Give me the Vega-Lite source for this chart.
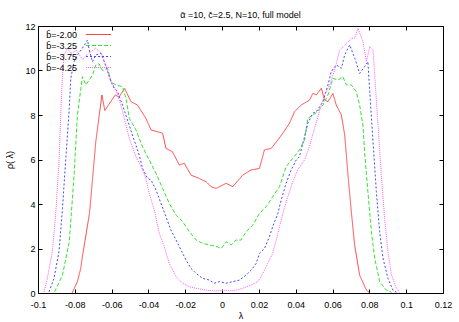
{
  "$schema": "https://vega.github.io/schema/vega-lite/v6.json",
  "width": 405,
  "height": 267,
  "autosize": "none",
  "padding": {"left": 38, "top": 26, "right": 16, "bottom": 29},
  "background": "white",
  "config": {
    "font": "Liberation Sans",
    "view": {"stroke": "black", "strokeWidth": 1},
    "axis": {"grid": false, "domain": false, "tickColor": "black", "tickSize": -4, "labelFontSize": 9, "labelColor": "black", "titleFontSize": 9, "titleFontWeight": "normal", "titleColor": "black", "labelPadding": 7}
  },
  "title": {"text": "ᾱ =10, c̆=2.5, N=10, full model", "fontSize": 9, "fontWeight": "normal", "anchor": "middle", "offset": 2, "color": "black"},
  "data": {"values": [
    {"b":"b̄=-2.00","lambda":-0.0815,"rho":0},
    {"b":"b̄=-2.00","lambda":-0.0786,"rho":0.51},
    {"b":"b̄=-2.00","lambda":-0.0768,"rho":1.1},
    {"b":"b̄=-2.00","lambda":-0.076,"rho":1.57},
    {"b":"b̄=-2.00","lambda":-0.072,"rho":3.6},
    {"b":"b̄=-2.00","lambda":-0.0686,"rho":6.8},
    {"b":"b̄=-2.00","lambda":-0.0653,"rho":8.9},
    {"b":"b̄=-2.00","lambda":-0.0637,"rho":8.2},
    {"b":"b̄=-2.00","lambda":-0.0613,"rho":8.5},
    {"b":"b̄=-2.00","lambda":-0.058,"rho":8.9},
    {"b":"b̄=-2.00","lambda":-0.056,"rho":8.8},
    {"b":"b̄=-2.00","lambda":-0.053,"rho":9.2},
    {"b":"b̄=-2.00","lambda":-0.0495,"rho":8.6},
    {"b":"b̄=-2.00","lambda":-0.046,"rho":8.45},
    {"b":"b̄=-2.00","lambda":-0.0414,"rho":7.85},
    {"b":"b̄=-2.00","lambda":-0.0386,"rho":7.33},
    {"b":"b̄=-2.00","lambda":-0.0323,"rho":7.18},
    {"b":"b̄=-2.00","lambda":-0.0305,"rho":6.5},
    {"b":"b̄=-2.00","lambda":-0.027,"rho":6.35},
    {"b":"b̄=-2.00","lambda":-0.0232,"rho":5.75},
    {"b":"b̄=-2.00","lambda":-0.0205,"rho":5.83},
    {"b":"b̄=-2.00","lambda":-0.0169,"rho":5.3},
    {"b":"b̄=-2.00","lambda":-0.0124,"rho":5.15},
    {"b":"b̄=-2.00","lambda":-0.0087,"rho":5.0},
    {"b":"b̄=-2.00","lambda":-0.006,"rho":4.78},
    {"b":"b̄=-2.00","lambda":-0.0033,"rho":4.7},
    {"b":"b̄=-2.00","lambda":0.0003,"rho":4.85},
    {"b":"b̄=-2.00","lambda":0.0022,"rho":4.93},
    {"b":"b̄=-2.00","lambda":0.0058,"rho":4.78},
    {"b":"b̄=-2.00","lambda":0.0112,"rho":5.3},
    {"b":"b̄=-2.00","lambda":0.0158,"rho":5.53},
    {"b":"b̄=-2.00","lambda":0.0203,"rho":5.6},
    {"b":"b̄=-2.00","lambda":0.023,"rho":6.43},
    {"b":"b̄=-2.00","lambda":0.0267,"rho":6.5},
    {"b":"b̄=-2.00","lambda":0.0303,"rho":6.88},
    {"b":"b̄=-2.00","lambda":0.033,"rho":7.18},
    {"b":"b̄=-2.00","lambda":0.0366,"rho":7.63},
    {"b":"b̄=-2.00","lambda":0.0394,"rho":8.15},
    {"b":"b̄=-2.00","lambda":0.043,"rho":8.45},
    {"b":"b̄=-2.00","lambda":0.0475,"rho":8.67},
    {"b":"b̄=-2.00","lambda":0.0493,"rho":8.97},
    {"b":"b̄=-2.00","lambda":0.0512,"rho":8.9},
    {"b":"b̄=-2.00","lambda":0.0539,"rho":9.2},
    {"b":"b̄=-2.00","lambda":0.0557,"rho":8.67},
    {"b":"b̄=-2.00","lambda":0.0575,"rho":8.6},
    {"b":"b̄=-2.00","lambda":0.0602,"rho":8.97},
    {"b":"b̄=-2.00","lambda":0.062,"rho":8.45},
    {"b":"b̄=-2.00","lambda":0.0648,"rho":8.0},
    {"b":"b̄=-2.00","lambda":0.0666,"rho":7.1},
    {"b":"b̄=-2.00","lambda":0.0684,"rho":5.3},
    {"b":"b̄=-2.00","lambda":0.0702,"rho":3.65},
    {"b":"b̄=-2.00","lambda":0.072,"rho":2.16},
    {"b":"b̄=-2.00","lambda":0.0747,"rho":0.81},
    {"b":"b̄=-2.00","lambda":0.0784,"rho":0.13},
    {"b":"b̄=-2.00","lambda":0.08,"rho":0.02},

    {"b":"b̄=-3.25","lambda":-0.091,"rho":0.05},
    {"b":"b̄=-3.25","lambda":-0.0867,"rho":0.81},
    {"b":"b̄=-3.25","lambda":-0.083,"rho":2.3},
    {"b":"b̄=-3.25","lambda":-0.0804,"rho":5.3},
    {"b":"b̄=-3.25","lambda":-0.0786,"rho":8.0},
    {"b":"b̄=-3.25","lambda":-0.0767,"rho":9.2},
    {"b":"b̄=-3.25","lambda":-0.0759,"rho":9.72},
    {"b":"b̄=-3.25","lambda":-0.074,"rho":9.35},
    {"b":"b̄=-3.25","lambda":-0.0722,"rho":9.57},
    {"b":"b̄=-3.25","lambda":-0.0704,"rho":9.8},
    {"b":"b̄=-3.25","lambda":-0.0686,"rho":10.25},
    {"b":"b̄=-3.25","lambda":-0.0668,"rho":10.3},
    {"b":"b̄=-3.25","lambda":-0.065,"rho":10.0},
    {"b":"b̄=-3.25","lambda":-0.0622,"rho":10.1},
    {"b":"b̄=-3.25","lambda":-0.0604,"rho":9.5},
    {"b":"b̄=-3.25","lambda":-0.0577,"rho":9.35},
    {"b":"b̄=-3.25","lambda":-0.0541,"rho":9.27},
    {"b":"b̄=-3.25","lambda":-0.0522,"rho":8.75},
    {"b":"b̄=-3.25","lambda":-0.0504,"rho":7.85},
    {"b":"b̄=-3.25","lambda":-0.0468,"rho":7.33},
    {"b":"b̄=-3.25","lambda":-0.0432,"rho":6.57},
    {"b":"b̄=-3.25","lambda":-0.0396,"rho":5.98},
    {"b":"b̄=-3.25","lambda":-0.0359,"rho":5.38},
    {"b":"b̄=-3.25","lambda":-0.0323,"rho":4.7},
    {"b":"b̄=-3.25","lambda":-0.0287,"rho":4.03},
    {"b":"b̄=-3.25","lambda":-0.025,"rho":3.5},
    {"b":"b̄=-3.25","lambda":-0.0214,"rho":3.2},
    {"b":"b̄=-3.25","lambda":-0.0178,"rho":2.76},
    {"b":"b̄=-3.25","lambda":-0.0141,"rho":2.38},
    {"b":"b̄=-3.25","lambda":-0.0106,"rho":2.23},
    {"b":"b̄=-3.25","lambda":-0.0069,"rho":2.16},
    {"b":"b̄=-3.25","lambda":-0.0033,"rho":2.1},
    {"b":"b̄=-3.25","lambda":-0.0005,"rho":2.0},
    {"b":"b̄=-3.25","lambda":0.0022,"rho":2.3},
    {"b":"b̄=-3.25","lambda":0.0049,"rho":2.16},
    {"b":"b̄=-3.25","lambda":0.0076,"rho":2.38},
    {"b":"b̄=-3.25","lambda":0.0103,"rho":2.38},
    {"b":"b̄=-3.25","lambda":0.0131,"rho":2.76},
    {"b":"b̄=-3.25","lambda":0.0167,"rho":3.05},
    {"b":"b̄=-3.25","lambda":0.0203,"rho":3.58},
    {"b":"b̄=-3.25","lambda":0.024,"rho":3.88},
    {"b":"b̄=-3.25","lambda":0.0275,"rho":4.33},
    {"b":"b̄=-3.25","lambda":0.0312,"rho":4.78},
    {"b":"b̄=-3.25","lambda":0.0348,"rho":5.68},
    {"b":"b̄=-3.25","lambda":0.0384,"rho":6.05},
    {"b":"b̄=-3.25","lambda":0.042,"rho":6.43},
    {"b":"b̄=-3.25","lambda":0.0448,"rho":6.88},
    {"b":"b̄=-3.25","lambda":0.0466,"rho":7.85},
    {"b":"b̄=-3.25","lambda":0.0493,"rho":8.0},
    {"b":"b̄=-3.25","lambda":0.0512,"rho":8.1},
    {"b":"b̄=-3.25","lambda":0.0548,"rho":8.45},
    {"b":"b̄=-3.25","lambda":0.0575,"rho":8.9},
    {"b":"b̄=-3.25","lambda":0.0602,"rho":9.65},
    {"b":"b̄=-3.25","lambda":0.0629,"rho":9.57},
    {"b":"b̄=-3.25","lambda":0.0656,"rho":9.72},
    {"b":"b̄=-3.25","lambda":0.0675,"rho":9.35},
    {"b":"b̄=-3.25","lambda":0.0702,"rho":9.35},
    {"b":"b̄=-3.25","lambda":0.0729,"rho":9.05},
    {"b":"b̄=-3.25","lambda":0.0747,"rho":8.45},
    {"b":"b̄=-3.25","lambda":0.0765,"rho":7.55},
    {"b":"b̄=-3.25","lambda":0.0774,"rho":6.35},
    {"b":"b̄=-3.25","lambda":0.0792,"rho":4.55},
    {"b":"b̄=-3.25","lambda":0.0811,"rho":2.76},
    {"b":"b̄=-3.25","lambda":0.0829,"rho":1.56},
    {"b":"b̄=-3.25","lambda":0.0856,"rho":0.51},
    {"b":"b̄=-3.25","lambda":0.0892,"rho":0.13},
    {"b":"b̄=-3.25","lambda":0.092,"rho":0.03},

    {"b":"b̄=-3.75","lambda":-0.094,"rho":0.05},
    {"b":"b̄=-3.75","lambda":-0.0913,"rho":0.66},
    {"b":"b̄=-3.75","lambda":-0.0886,"rho":1.86},
    {"b":"b̄=-3.75","lambda":-0.0867,"rho":3.8},
    {"b":"b̄=-3.75","lambda":-0.0849,"rho":6.05},
    {"b":"b̄=-3.75","lambda":-0.083,"rho":8.3},
    {"b":"b̄=-3.75","lambda":-0.0822,"rho":9.65},
    {"b":"b̄=-3.75","lambda":-0.0804,"rho":10.4},
    {"b":"b̄=-3.75","lambda":-0.0786,"rho":10.7},
    {"b":"b̄=-3.75","lambda":-0.0759,"rho":11.0},
    {"b":"b̄=-3.75","lambda":-0.0731,"rho":11.37},
    {"b":"b̄=-3.75","lambda":-0.0722,"rho":10.92},
    {"b":"b̄=-3.75","lambda":-0.0704,"rho":10.4},
    {"b":"b̄=-3.75","lambda":-0.0686,"rho":10.7},
    {"b":"b̄=-3.75","lambda":-0.0658,"rho":10.77},
    {"b":"b̄=-3.75","lambda":-0.064,"rho":10.4},
    {"b":"b̄=-3.75","lambda":-0.0622,"rho":9.95},
    {"b":"b̄=-3.75","lambda":-0.0604,"rho":9.5},
    {"b":"b̄=-3.75","lambda":-0.0586,"rho":9.2},
    {"b":"b̄=-3.75","lambda":-0.0568,"rho":9.05},
    {"b":"b̄=-3.75","lambda":-0.0541,"rho":8.45},
    {"b":"b̄=-3.75","lambda":-0.0514,"rho":7.78},
    {"b":"b̄=-3.75","lambda":-0.0487,"rho":7.1},
    {"b":"b̄=-3.75","lambda":-0.045,"rho":6.2},
    {"b":"b̄=-3.75","lambda":-0.0432,"rho":5.6},
    {"b":"b̄=-3.75","lambda":-0.0405,"rho":5.15},
    {"b":"b̄=-3.75","lambda":-0.0386,"rho":5.08},
    {"b":"b̄=-3.75","lambda":-0.0359,"rho":4.63},
    {"b":"b̄=-3.75","lambda":-0.0332,"rho":4.03},
    {"b":"b̄=-3.75","lambda":-0.0305,"rho":3.43},
    {"b":"b̄=-3.75","lambda":-0.0278,"rho":2.83},
    {"b":"b̄=-3.75","lambda":-0.025,"rho":2.38},
    {"b":"b̄=-3.75","lambda":-0.0223,"rho":1.93},
    {"b":"b̄=-3.75","lambda":-0.0196,"rho":1.48},
    {"b":"b̄=-3.75","lambda":-0.0169,"rho":1.11},
    {"b":"b̄=-3.75","lambda":-0.0141,"rho":0.88},
    {"b":"b̄=-3.75","lambda":-0.0106,"rho":0.66},
    {"b":"b̄=-3.75","lambda":-0.0069,"rho":0.58},
    {"b":"b̄=-3.75","lambda":-0.0042,"rho":0.44},
    {"b":"b̄=-3.75","lambda":-0.0015,"rho":0.51},
    {"b":"b̄=-3.75","lambda":0.0022,"rho":0.44},
    {"b":"b̄=-3.75","lambda":0.0058,"rho":0.51},
    {"b":"b̄=-3.75","lambda":0.0094,"rho":0.58},
    {"b":"b̄=-3.75","lambda":0.0131,"rho":0.81},
    {"b":"b̄=-3.75","lambda":0.0158,"rho":1.03},
    {"b":"b̄=-3.75","lambda":0.0185,"rho":1.33},
    {"b":"b̄=-3.75","lambda":0.0203,"rho":1.78},
    {"b":"b̄=-3.75","lambda":0.023,"rho":2.0},
    {"b":"b̄=-3.75","lambda":0.0257,"rho":2.53},
    {"b":"b̄=-3.75","lambda":0.0275,"rho":2.98},
    {"b":"b̄=-3.75","lambda":0.0303,"rho":3.58},
    {"b":"b̄=-3.75","lambda":0.0321,"rho":4.18},
    {"b":"b̄=-3.75","lambda":0.0348,"rho":4.93},
    {"b":"b̄=-3.75","lambda":0.0375,"rho":5.53},
    {"b":"b̄=-3.75","lambda":0.0403,"rho":5.98},
    {"b":"b̄=-3.75","lambda":0.042,"rho":6.13},
    {"b":"b̄=-3.75","lambda":0.0439,"rho":6.73},
    {"b":"b̄=-3.75","lambda":0.0466,"rho":7.63},
    {"b":"b̄=-3.75","lambda":0.0493,"rho":8.08},
    {"b":"b̄=-3.75","lambda":0.0512,"rho":8.15},
    {"b":"b̄=-3.75","lambda":0.0548,"rho":8.6},
    {"b":"b̄=-3.75","lambda":0.0575,"rho":9.35},
    {"b":"b̄=-3.75","lambda":0.0593,"rho":9.95},
    {"b":"b̄=-3.75","lambda":0.062,"rho":10.25},
    {"b":"b̄=-3.75","lambda":0.0648,"rho":10.1},
    {"b":"b̄=-3.75","lambda":0.0666,"rho":10.7},
    {"b":"b̄=-3.75","lambda":0.0693,"rho":11.15},
    {"b":"b̄=-3.75","lambda":0.0721,"rho":10.55},
    {"b":"b̄=-3.75","lambda":0.0747,"rho":9.87},
    {"b":"b̄=-3.75","lambda":0.0774,"rho":10.17},
    {"b":"b̄=-3.75","lambda":0.0792,"rho":10.4},
    {"b":"b̄=-3.75","lambda":0.0802,"rho":9.05},
    {"b":"b̄=-3.75","lambda":0.082,"rho":6.8},
    {"b":"b̄=-3.75","lambda":0.0838,"rho":4.55},
    {"b":"b̄=-3.75","lambda":0.0856,"rho":2.76},
    {"b":"b̄=-3.75","lambda":0.0874,"rho":1.56},
    {"b":"b̄=-3.75","lambda":0.0901,"rho":0.66},
    {"b":"b̄=-3.75","lambda":0.0928,"rho":0.13},
    {"b":"b̄=-3.75","lambda":0.0947,"rho":0.03},

    {"b":"b̄=-4.25","lambda":-0.0967,"rho":0.05},
    {"b":"b̄=-4.25","lambda":-0.0949,"rho":0.66},
    {"b":"b̄=-4.25","lambda":-0.0922,"rho":1.86},
    {"b":"b̄=-4.25","lambda":-0.0903,"rho":3.65},
    {"b":"b̄=-4.25","lambda":-0.0885,"rho":6.05},
    {"b":"b̄=-4.25","lambda":-0.0876,"rho":8.15},
    {"b":"b̄=-4.25","lambda":-0.0867,"rho":9.8},
    {"b":"b̄=-4.25","lambda":-0.0858,"rho":10.7},
    {"b":"b̄=-4.25","lambda":-0.084,"rho":11.0},
    {"b":"b̄=-4.25","lambda":-0.0822,"rho":10.77},
    {"b":"b̄=-4.25","lambda":-0.079,"rho":10.9},
    {"b":"b̄=-4.25","lambda":-0.0759,"rho":10.5},
    {"b":"b̄=-4.25","lambda":-0.0722,"rho":10.8},
    {"b":"b̄=-4.25","lambda":-0.0686,"rho":11.0},
    {"b":"b̄=-4.25","lambda":-0.0658,"rho":10.8},
    {"b":"b̄=-4.25","lambda":-0.0631,"rho":10.25},
    {"b":"b̄=-4.25","lambda":-0.0604,"rho":9.57},
    {"b":"b̄=-4.25","lambda":-0.0577,"rho":9.12},
    {"b":"b̄=-4.25","lambda":-0.055,"rho":8.45},
    {"b":"b̄=-4.25","lambda":-0.0522,"rho":7.55},
    {"b":"b̄=-4.25","lambda":-0.0504,"rho":6.95},
    {"b":"b̄=-4.25","lambda":-0.0468,"rho":6.13},
    {"b":"b̄=-4.25","lambda":-0.0432,"rho":5.53},
    {"b":"b̄=-4.25","lambda":-0.0414,"rho":5.15},
    {"b":"b̄=-4.25","lambda":-0.0396,"rho":4.48},
    {"b":"b̄=-4.25","lambda":-0.0368,"rho":3.73},
    {"b":"b̄=-4.25","lambda":-0.0341,"rho":2.68},
    {"b":"b̄=-4.25","lambda":-0.0314,"rho":2.08},
    {"b":"b̄=-4.25","lambda":-0.0287,"rho":1.33},
    {"b":"b̄=-4.25","lambda":-0.025,"rho":0.73},
    {"b":"b̄=-4.25","lambda":-0.0214,"rho":0.44},
    {"b":"b̄=-4.25","lambda":-0.0178,"rho":0.28},
    {"b":"b̄=-4.25","lambda":-0.0141,"rho":0.21},
    {"b":"b̄=-4.25","lambda":-0.0087,"rho":0.13},
    {"b":"b̄=-4.25","lambda":-0.0033,"rho":0.09},
    {"b":"b̄=-4.25","lambda":0.0022,"rho":0.12},
    {"b":"b̄=-4.25","lambda":0.0058,"rho":0.09},
    {"b":"b̄=-4.25","lambda":0.0112,"rho":0.21},
    {"b":"b̄=-4.25","lambda":0.0158,"rho":0.36},
    {"b":"b̄=-4.25","lambda":0.0194,"rho":0.51},
    {"b":"b̄=-4.25","lambda":0.0221,"rho":0.88},
    {"b":"b̄=-4.25","lambda":0.0248,"rho":1.33},
    {"b":"b̄=-4.25","lambda":0.0275,"rho":1.78},
    {"b":"b̄=-4.25","lambda":0.0303,"rho":2.68},
    {"b":"b̄=-4.25","lambda":0.033,"rho":3.58},
    {"b":"b̄=-4.25","lambda":0.0357,"rho":4.33},
    {"b":"b̄=-4.25","lambda":0.0384,"rho":5.0},
    {"b":"b̄=-4.25","lambda":0.0411,"rho":5.53},
    {"b":"b̄=-4.25","lambda":0.0448,"rho":5.98},
    {"b":"b̄=-4.25","lambda":0.0475,"rho":6.6},
    {"b":"b̄=-4.25","lambda":0.0502,"rho":7.4},
    {"b":"b̄=-4.25","lambda":0.053,"rho":8.2},
    {"b":"b̄=-4.25","lambda":0.0557,"rho":8.9},
    {"b":"b̄=-4.25","lambda":0.0584,"rho":9.35},
    {"b":"b̄=-4.25","lambda":0.0611,"rho":10.0},
    {"b":"b̄=-4.25","lambda":0.0638,"rho":10.9},
    {"b":"b̄=-4.25","lambda":0.0675,"rho":11.2},
    {"b":"b̄=-4.25","lambda":0.0702,"rho":11.45},
    {"b":"b̄=-4.25","lambda":0.072,"rho":11.45},
    {"b":"b̄=-4.25","lambda":0.0738,"rho":11.9},
    {"b":"b̄=-4.25","lambda":0.0765,"rho":11.3},
    {"b":"b̄=-4.25","lambda":0.0784,"rho":10.4},
    {"b":"b̄=-4.25","lambda":0.0802,"rho":11.07},
    {"b":"b̄=-4.25","lambda":0.082,"rho":10.92},
    {"b":"b̄=-4.25","lambda":0.0829,"rho":9.8},
    {"b":"b̄=-4.25","lambda":0.0847,"rho":7.55},
    {"b":"b̄=-4.25","lambda":0.0865,"rho":5.3},
    {"b":"b̄=-4.25","lambda":0.0883,"rho":3.35},
    {"b":"b̄=-4.25","lambda":0.0901,"rho":1.86},
    {"b":"b̄=-4.25","lambda":0.092,"rho":0.81},
    {"b":"b̄=-4.25","lambda":0.0947,"rho":0.21},
    {"b":"b̄=-4.25","lambda":0.0965,"rho":0.03}
  ]},
  "layer": [
    {
      "mark": {"type": "line", "strokeWidth": 1, "clip": true},
      "encoding": {
        "x": {"field": "lambda", "type": "quantitative", "title": "λ",
          "scale": {"domain": [-0.1, 0.12], "nice": false, "zero": false},
          "axis": {"orient": "bottom", "values": [-0.1,-0.08,-0.06,-0.04,-0.02,0,0.02,0.04,0.06,0.08,0.1,0.12], "labelExpr": "replace(format(datum.value, '~g'), '−', '-')", "labelPadding": 11, "titlePadding": 2, "labelFlush": false}},
        "y": {"field": "rho", "type": "quantitative", "title": "ρ( λ)",
          "scale": {"domain": [0, 12], "nice": false},
          "axis": {"orient": "left", "values": [0,2,4,6,8,10,12], "titlePadding": 10, "labelFlush": false}},
        "color": {"field": "b", "type": "nominal",
          "scale": {"domain": ["b̄=-2.00","b̄=-3.25","b̄=-3.75","b̄=-4.25"], "range": ["#ff4545","#38e038","#4545ff","#ff5cff"]},
          "legend": {"title": null, "orient": "none", "legendX": 55, "legendY": 3, "symbolType": "M-2.5,0H2.5", "symbolSize": 100, "symbolStrokeWidth": 1, "labelFontSize": 9, "labelColor": "black", "labelAlign": "right", "labelOffset": -27, "rowPadding": -1, "padding": 0}},
        "strokeDash": {"field": "b", "type": "nominal",
          "scale": {"domain": ["b̄=-2.00","b̄=-3.25","b̄=-3.75","b̄=-4.25"], "range": [[1,0],[4,2],[2,2],[1,1]]},
          "legend": {"title": null, "orient": "none", "legendX": 55, "legendY": 3, "symbolType": "M-2.5,0H2.5", "symbolSize": 100, "symbolStrokeWidth": 1, "labelFontSize": 9, "labelColor": "black", "labelAlign": "right", "labelOffset": -27, "rowPadding": -1, "padding": 0}}
      }
    },
    {
      "mark": {"type": "line", "opacity": 0},
      "encoding": {
        "x": {"field": "lambda", "type": "quantitative",
          "scale": {"domain": [-0.1, 0.12], "nice": false, "zero": false},
          "axis": {"orient": "top", "values": [-0.1,-0.08,-0.06,-0.04,-0.02,0,0.02,0.04,0.06,0.08,0.1,0.12], "labels": false, "title": null}},
        "y": {"field": "rho", "type": "quantitative",
          "scale": {"domain": [0, 12], "nice": false},
          "axis": {"orient": "right", "values": [0,2,4,6,8,10,12], "labels": false, "title": null}}
      }
    }
  ],
  "resolve": {"axis": {"x": "independent", "y": "independent"}}
}
